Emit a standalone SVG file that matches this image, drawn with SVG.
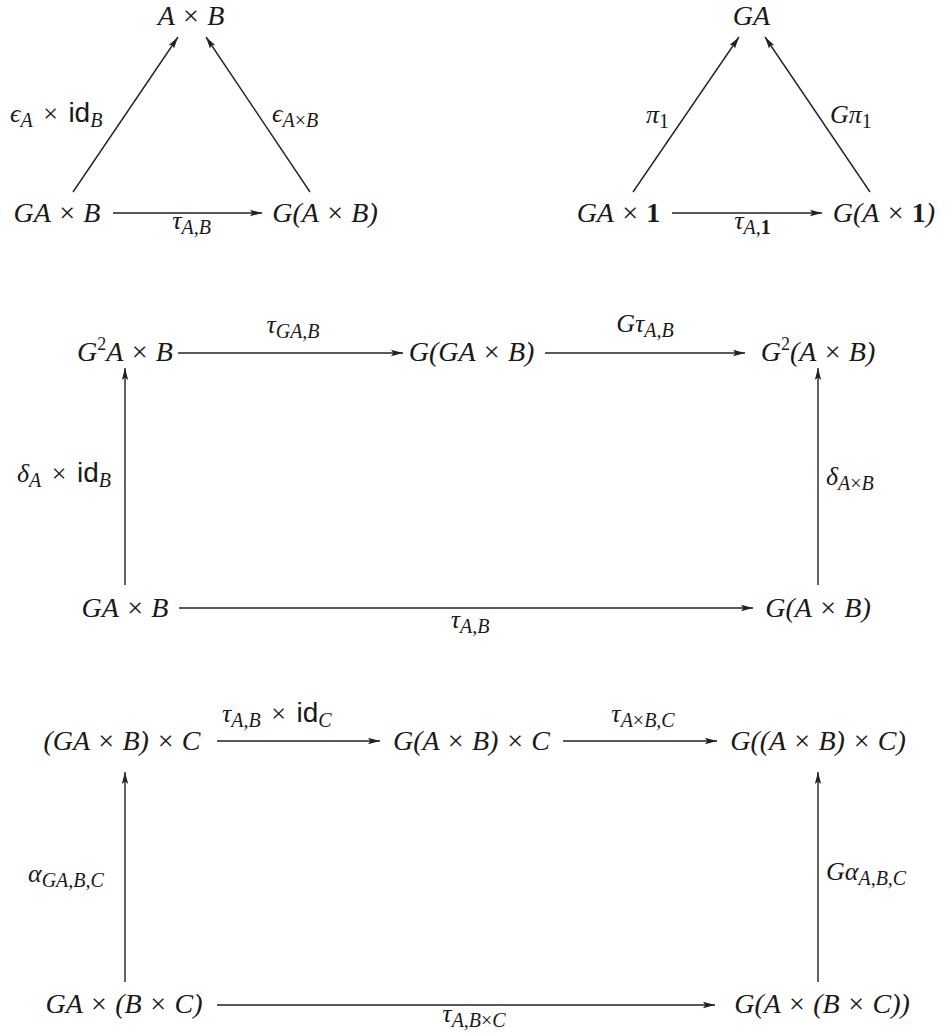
<svg xmlns="http://www.w3.org/2000/svg" width="945" height="1034" viewBox="0 0 945 1034">
<defs>
<style>
.n{font-family:"Liberation Serif","DejaVu Serif",serif;font-size:28px;font-style:italic;fill:#1a1a1a}
.l{font-family:"Liberation Serif","DejaVu Serif",serif;font-size:26px;font-style:italic;fill:#1a1a1a;word-spacing:4px}
.up{font-style:normal}
.bf{font-style:normal;font-weight:bold}
.sb{font-size:20px;word-spacing:0}
.sp{font-size:18px}
.sf{font-family:"Liberation Sans","DejaVu Sans",sans-serif;font-style:normal;font-size:28px}
.c line{stroke:#222;stroke-width:1.4;fill:none}
</style>
<marker id="ah" viewBox="0 0 12 8" refX="12" refY="4" markerWidth="12" markerHeight="8" markerUnits="userSpaceOnUse" orient="auto">
<path d="M0,0.8 L12,4 L0,7.2 L2.4,4 z" fill="#222"/>
</marker>
</defs>
<rect width="945" height="1034" fill="#fff"/>

<g class="c" id="connectors">
<line x1="73" y1="192" x2="178" y2="37" marker-end="url(#ah)"/>
<line x1="310" y1="192" x2="206" y2="37" marker-end="url(#ah)"/>
<line x1="113" y1="213" x2="262" y2="213" marker-end="url(#ah)"/>
<line x1="633" y1="192" x2="739" y2="37" marker-end="url(#ah)"/>
<line x1="870" y1="192" x2="765" y2="37" marker-end="url(#ah)"/>
<line x1="672" y1="213" x2="822" y2="213" marker-end="url(#ah)"/>
<line x1="178" y1="353" x2="403" y2="353" marker-end="url(#ah)"/>
<line x1="545" y1="353" x2="745" y2="353" marker-end="url(#ah)"/>
<line x1="125" y1="585" x2="125" y2="368" marker-end="url(#ah)"/>
<line x1="818" y1="585" x2="818" y2="368" marker-end="url(#ah)"/>
<line x1="179" y1="608" x2="753" y2="608" marker-end="url(#ah)"/>
<line x1="217" y1="741" x2="380" y2="741" marker-end="url(#ah)"/>
<line x1="563" y1="741" x2="717" y2="741" marker-end="url(#ah)"/>
<line x1="125" y1="982" x2="125" y2="772" marker-end="url(#ah)"/>
<line x1="818" y1="982" x2="818" y2="772" marker-end="url(#ah)"/>
<line x1="217" y1="1005" x2="715" y2="1005" marker-end="url(#ah)"/>
</g>

<g id="labels">
<text class="l" x="10" y="122">ϵ<tspan class="sb" dy="5">A</tspan><tspan class="up" dy="-5"> × </tspan><tspan class="sf">id</tspan><tspan class="sb" dy="5">B</tspan></text>
<text class="l" x="272" y="122">ϵ<tspan class="sb" dy="5">A<tspan class="up">×</tspan>B</tspan></text>
<text class="l" x="191.5" y="229" text-anchor="middle">τ<tspan class="sb" dy="5">A,B</tspan></text>
<text class="l" x="646" y="123">π<tspan class="sb up" dy="5">1</tspan></text>
<text class="l" x="830" y="123">Gπ<tspan class="sb up" dy="5">1</tspan></text>
<text class="l" x="752.5" y="229" text-anchor="middle">τ<tspan class="sb" dy="5">A,<tspan class="bf">1</tspan></tspan></text>
<text class="l" x="293" y="333" text-anchor="middle">τ<tspan class="sb" dy="5">GA,B</tspan></text>
<text class="l" x="645" y="332" text-anchor="middle">Gτ<tspan class="sb" dy="5">A,B</tspan></text>
<text class="l" x="17" y="482">δ<tspan class="sb" dy="5">A</tspan><tspan class="up" dy="-5"> × </tspan><tspan class="sf">id</tspan><tspan class="sb" dy="5">B</tspan></text>
<text class="l" x="826" y="485">δ<tspan class="sb" dy="5">A<tspan class="up">×</tspan>B</tspan></text>
<text class="l" x="470" y="628" text-anchor="middle">τ<tspan class="sb" dy="5">A,B</tspan></text>
<text class="l" x="222" y="722">τ<tspan class="sb" dy="5">A,B</tspan><tspan class="up" dy="-5"> × </tspan><tspan class="sf">id</tspan><tspan class="sb" dy="5">C</tspan></text>
<text class="l" x="643" y="722" text-anchor="middle">τ<tspan class="sb" dy="5">A<tspan class="up">×</tspan>B,C</tspan></text>
<text class="l" x="28" y="882">α<tspan class="sb" dy="5">GA,B,C</tspan></text>
<text class="l" x="826" y="880">Gα<tspan class="sb" dy="5">A,B,C</tspan></text>
<text class="l" x="474" y="1022" text-anchor="middle">τ<tspan class="sb" dy="5">A,B<tspan class="up">×</tspan>C</tspan></text>
</g>

<g id="n-AxB"><text class="n" x="191" y="25" text-anchor="middle">A × B</text></g>
<g id="n-GAxB-1"><text class="n" x="57" y="222" text-anchor="middle">GA × B</text></g>
<g id="n-GAxB-2"><text class="n" x="325" y="222" text-anchor="middle">G(A × B)</text></g>

<g id="n-GA"><text class="n" x="751.5" y="25" text-anchor="middle">GA</text></g>
<g id="n-GAx1"><text class="n" x="618.5" y="222" text-anchor="middle">GA × <tspan class="bf">1</tspan></text></g>
<g id="n-GAx1-G"><text class="n" x="884" y="222" text-anchor="middle">G(A × <tspan class="bf">1</tspan>)</text></g>

<g id="n-G2AxB"><text class="n" x="125" y="361" text-anchor="middle">G<tspan class="sp up" dy="-11">2</tspan><tspan dy="11">A × B</tspan></text></g>
<g id="n-GGAxB"><text class="n" x="471.5" y="361" text-anchor="middle">G(GA × B)</text></g>
<g id="n-G2AB"><text class="n" x="818" y="361" text-anchor="middle">G<tspan class="sp up" dy="-11">2</tspan><tspan dy="11">(A × B)</tspan></text></g>
<g id="n-GAxB-3"><text class="n" x="125" y="617" text-anchor="middle">GA × B</text></g>
<g id="n-GAB-3"><text class="n" x="818" y="617" text-anchor="middle">G(A × B)</text></g>

<g id="n-GABC-1"><text class="n" x="122" y="750" text-anchor="middle">(GA × B) × C</text></g>
<g id="n-GABC-2"><text class="n" x="471.5" y="750" text-anchor="middle">G(A × B) × C</text></g>
<g id="n-GABC-3"><text class="n" x="818" y="750" text-anchor="middle">G((A × B) × C)</text></g>
<g id="n-GABC-4"><text class="n" x="124" y="1013" text-anchor="middle">GA × (B × C)</text></g>
<g id="n-GABC-5"><text class="n" x="822" y="1013" text-anchor="middle">G(A × (B × C))</text></g>
</svg>
